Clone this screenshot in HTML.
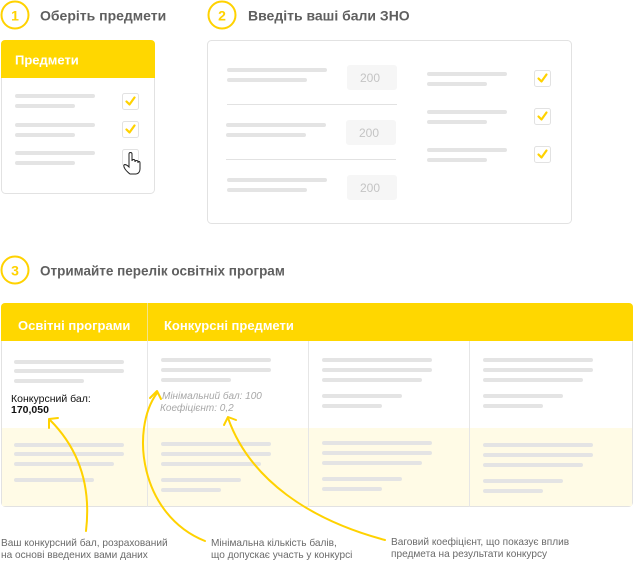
<!DOCTYPE html>
<html><head><meta charset="utf-8"><style>
html,body{margin:0;padding:0;background:#fff;width:634px;height:578px;overflow:hidden}
svg{display:block}
text{font-family:"Liberation Sans",Arial,sans-serif}
</style></head><body>
<svg width="634" height="578" viewBox="0 0 634 578" xmlns="http://www.w3.org/2000/svg">
<defs>
<g id="cb"><rect x="0.5" y="0.5" width="16" height="16" rx="2" fill="#fff" stroke="#e2e2e2"/><path d="M4.5 8.5 L7.5 11.5 L12.5 4.5" fill="none" stroke="#ffd200" stroke-width="2.2" stroke-linecap="round" stroke-linejoin="round"/></g>
</defs>
<text x="15" y="20.5" text-anchor="middle" font-size="14" font-weight="bold" fill="#ffd200">1</text>
<circle cx="15" cy="15" r="13.5" fill="none" stroke="#ffd200" stroke-width="2"/>
<text x="40" y="20.5" font-size="14" font-weight="bold" fill="#5f5f5f">Оберіть предмети</text>
<circle cx="222" cy="15" r="13.5" fill="none" stroke="#ffd200" stroke-width="2"/>
<text x="222" y="20.5" text-anchor="middle" font-size="14" font-weight="bold" fill="#ffd200">2</text>
<text x="248" y="20.5" font-size="14" font-weight="bold" fill="#5f5f5f">Введіть ваші бали ЗНО</text>
<circle cx="15" cy="270" r="13.5" fill="none" stroke="#ffd200" stroke-width="2"/>
<text x="15" y="275.5" text-anchor="middle" font-size="14" font-weight="bold" fill="#ffd200">3</text>
<text x="40" y="275.5" font-size="13.5" font-weight="bold" fill="#5f5f5f">Отримайте перелік освітніх програм</text>

<rect x="1.5" y="40.5" width="153" height="153" rx="4" fill="#fff" stroke="#e2e2e2"/>
<path d="M1 78 V44 a4 4 0 0 1 4 -4 H151 a4 4 0 0 1 4 4 V78 Z" fill="#ffd700"/>
<text x="15" y="64.5" font-size="13" font-weight="bold" fill="#fff">Предмети</text>
<g stroke="#e4e4e4" stroke-width="4" stroke-linecap="round">
<line x1="17" y1="96" x2="93" y2="96"/><line x1="17" y1="106" x2="73" y2="106"/>
<line x1="17" y1="125" x2="93" y2="125"/><line x1="17" y1="135" x2="73" y2="135"/>
<line x1="17" y1="153" x2="93" y2="153"/><line x1="17" y1="163" x2="73" y2="163"/>
</g>
<use href="#cb" x="122" y="93"/><use href="#cb" x="122" y="121"/>
<rect x="122.5" y="149.5" width="16" height="16" rx="2" fill="#fff" stroke="#e2e2e2"/>
<path d="M130 174 C126 171 123 167 124 165 C125 164 127 165 129 167 V154 C129 152 132 152 132 154 V161 C132 159 135 159 135 161 V162 C135 160 138 160 138 162 V163 C138 161 140 161 140 163 V169 C140 172 138 174 136 174 Z" fill="#fff" stroke="#222" stroke-width="1"/>

<rect x="207.5" y="40.5" width="364" height="183" rx="4" fill="#fff" stroke="#e2e2e2"/>
<g stroke="#e4e4e4" stroke-width="4" stroke-linecap="round">
<line x1="229" y1="70" x2="325" y2="70"/><line x1="229" y1="80" x2="305" y2="80"/>
<line x1="228" y1="125" x2="324" y2="125"/><line x1="228" y1="135" x2="304" y2="135"/>
<line x1="229" y1="180" x2="325" y2="180"/><line x1="229" y1="190" x2="305" y2="190"/>
<line x1="429" y1="74" x2="505" y2="74"/><line x1="429" y1="84" x2="485" y2="84"/>
<line x1="429" y1="112" x2="505" y2="112"/><line x1="429" y1="122" x2="485" y2="122"/>
<line x1="429" y1="150" x2="505" y2="150"/><line x1="429" y1="160" x2="485" y2="160"/>
</g>
<g stroke="#e2e2e2" stroke-width="1"><line x1="227" y1="104.5" x2="397" y2="104.5"/><line x1="226" y1="159.5" x2="396" y2="159.5"/></g>
<g fill="#f6f6f6"><rect x="347" y="65" width="50" height="25" rx="3"/><rect x="346" y="120" width="50" height="25" rx="3"/><rect x="347" y="175" width="50" height="25" rx="3"/></g>
<g font-size="12" fill="#c4c4c4" text-anchor="middle"><text x="370" y="82">200</text><text x="369" y="137">200</text><text x="370" y="192">200</text></g>
<use href="#cb" x="534" y="70"/><use href="#cb" x="534" y="108"/><use href="#cb" x="534" y="146"/>

<rect x="1.5" y="303.5" width="631" height="203" rx="4" fill="#fff" stroke="#e2e2e2"/>
<rect x="2" y="428" width="630" height="78" fill="#fffbe6"/>
<path d="M1 341 V307 a4 4 0 0 1 4 -4 H629 a4 4 0 0 1 4 4 V341 Z" fill="#ffd700"/>
<line x1="147.5" y1="341" x2="147.5" y2="507" stroke="#e6e6e6"/>
<line x1="147.5" y1="303" x2="147.5" y2="341" stroke="#f3e48a"/>
<line x1="308.5" y1="341" x2="308.5" y2="507" stroke="#e6e6e6"/>
<line x1="469.5" y1="341" x2="469.5" y2="507" stroke="#e6e6e6"/>
<text x="18" y="330" font-size="13" font-weight="bold" fill="#fff">Освітні програми</text>
<text x="164" y="330" font-size="13" font-weight="bold" fill="#fff">Конкурсні предмети</text>
<g stroke="#e4e4e4" stroke-width="4" stroke-linecap="round">
<line x1="16" y1="362" x2="122" y2="362"/><line x1="16" y1="371" x2="122" y2="371"/><line x1="16" y1="381" x2="82" y2="381"/>
<line x1="16" y1="445" x2="122" y2="445"/><line x1="16" y1="454" x2="122" y2="454"/><line x1="16" y1="464" x2="112" y2="464"/><line x1="16" y1="480" x2="92" y2="480"/>
<line x1="163" y1="360" x2="269" y2="360"/><line x1="163" y1="370" x2="269" y2="370"/><line x1="163" y1="380" x2="229" y2="380"/>
<line x1="163" y1="444" x2="269" y2="444"/><line x1="163" y1="454" x2="269" y2="454"/><line x1="163" y1="464" x2="259" y2="464"/><line x1="163" y1="480" x2="239" y2="480"/><line x1="163" y1="490" x2="219" y2="490"/>
<line x1="324" y1="360" x2="430" y2="360"/><line x1="324" y1="370" x2="430" y2="370"/><line x1="324" y1="380" x2="420" y2="380"/><line x1="324" y1="396" x2="400" y2="396"/><line x1="324" y1="406" x2="380" y2="406"/>
<line x1="324" y1="443" x2="430" y2="443"/><line x1="324" y1="453" x2="430" y2="453"/><line x1="324" y1="463" x2="420" y2="463"/><line x1="324" y1="479" x2="400" y2="479"/><line x1="324" y1="489" x2="380" y2="489"/>
<line x1="485" y1="360" x2="591" y2="360"/><line x1="485" y1="370" x2="591" y2="370"/><line x1="485" y1="380" x2="581" y2="380"/><line x1="485" y1="396" x2="561" y2="396"/><line x1="485" y1="406" x2="541" y2="406"/>
<line x1="485" y1="445" x2="591" y2="445"/><line x1="485" y1="455" x2="591" y2="455"/><line x1="485" y1="465" x2="581" y2="465"/><line x1="485" y1="481" x2="561" y2="481"/><line x1="485" y1="491" x2="541" y2="491"/>
</g>
<text x="11" y="402" font-size="10.5" fill="#111">Конкурсний бал:</text>
<text x="11" y="413" font-size="10.5" font-weight="bold" fill="#111">170,050</text>
<text x="162" y="399" font-size="10" font-style="italic" fill="#a8a8a8">Мінімальний бал: 100</text>
<text x="160" y="411" font-size="10" font-style="italic" fill="#a8a8a8">Коефіцієнт: 0,2</text>

<g fill="none" stroke="#ffd200" stroke-width="2" stroke-linecap="round" stroke-linejoin="round">
<path d="M86 531 C92 480 75 445 50 420"/><path d="M49 428 L49 419 L58 418"/>
<path d="M205 541 C140 515 130 430 157 393"/><path d="M150 398 L157 391 L161 399"/>
<path d="M385 540 C310 520 250 480 228 418"/><path d="M224 425 L228 417 L236 420"/>
</g>

<g font-size="10.1" fill="#6a6a6a">
<text x="1" y="546">Ваш конкурсний бал, розрахований</text>
<text x="1" y="558">на основі введених вами даних</text>
<text x="211" y="546">Мінімальна кількість балів,</text>
<text x="211" y="558">що допускає участь у конкурсі</text>
<text x="391" y="545">Ваговий коефіцієнт, що показує вплив</text>
<text x="391" y="557">предмета на результати конкурсу</text>
</g>
</svg>
</body></html>
